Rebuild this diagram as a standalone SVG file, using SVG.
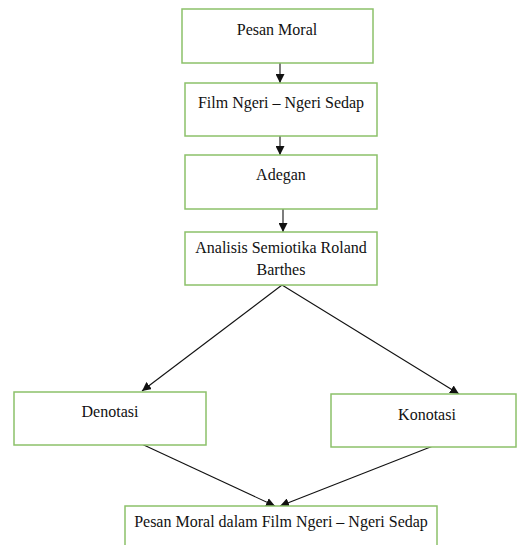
<svg xmlns="http://www.w3.org/2000/svg" width="517" height="545" viewBox="0 0 517 545">
<style>
.box{fill:#fff;stroke:#8cc16a;stroke-width:1.5}
.t{font-family:'Liberation Serif','Times New Roman',serif;font-size:16px;fill:#111;text-anchor:middle}
.c{stroke:#111;stroke-width:1.1;fill:none;marker-end:url(#ah)}
</style>
<defs>
<marker id="ah" viewBox="0 0 10 10" refX="10" refY="5" markerWidth="9" markerHeight="9" markerUnits="userSpaceOnUse" orient="auto">
<path d="M0,0 L10,5 L0,10 z" fill="#111"/>
</marker>
</defs>
<rect width="517" height="545" fill="#fff"/>
<g id="connectors">
<line class="c" x1="280" y1="63" x2="280" y2="83"/>
<line class="c" x1="280" y1="136" x2="280" y2="155"/>
<line class="c" x1="283" y1="209" x2="283" y2="232"/>
<line class="c" x1="282" y1="285" x2="142" y2="391"/>
<line class="c" x1="282" y1="285" x2="459" y2="394"/>
<line class="c" x1="133" y1="440" x2="275" y2="506"/>
<line class="c" x1="433" y1="446" x2="280" y2="506"/>
</g>
<g id="n1"><rect class="box" x="182" y="9" width="191" height="54"/><text class="t" x="277" y="35">Pesan Moral</text></g>
<g id="n2"><rect class="box" x="185" y="83" width="192" height="53"/><text class="t" x="281" y="108">Film Ngeri – Ngeri Sedap</text></g>
<g id="n3"><rect class="box" x="185" y="155" width="192" height="54"/><text class="t" x="281" y="180">Adegan</text></g>
<g id="n4"><rect class="box" x="185" y="232" width="192" height="53"/><text class="t" x="281" y="253">Analisis Semiotika Roland</text><text class="t" x="281" y="275">Barthes</text></g>
<g id="n5"><rect class="box" x="14" y="392" width="192" height="53"/><text class="t" x="110" y="417">Denotasi</text></g>
<g id="n6"><rect class="box" x="331" y="394" width="185" height="53"/><text class="t" x="427" y="420">Konotasi</text></g>
<g id="n7"><rect class="box" x="125" y="506" width="312" height="60"/><text class="t" x="281" y="527">Pesan Moral dalam Film Ngeri – Ngeri Sedap</text></g>
</svg>
